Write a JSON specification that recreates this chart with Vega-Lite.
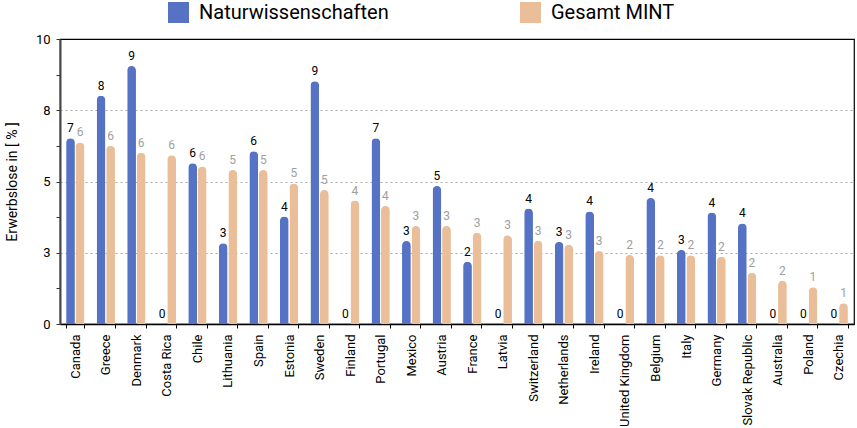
{
  "$schema": "https://vega.github.io/schema/vega-lite/v6.json",
  "width": 794,
  "height": 285,
  "autosize": {"type": "none"},
  "padding": {"left": 60, "top": 39, "right": 3, "bottom": 104},
  "config": {
    "font": "Roboto",
    "view": {"stroke": "#000000", "strokeWidth": 1.2},
    "axis": {"labelFont": "Roboto", "titleFont": "Roboto"}
  },
  "data": {
    "values": [
      {"country": "Canada", "series": "Naturwissenschaften", "value": 6.52},
      {"country": "Canada", "series": "Gesamt MINT", "value": 6.37},
      {"country": "Greece", "series": "Naturwissenschaften", "value": 8.01},
      {"country": "Greece", "series": "Gesamt MINT", "value": 6.25},
      {"country": "Denmark", "series": "Naturwissenschaften", "value": 9.05},
      {"country": "Denmark", "series": "Gesamt MINT", "value": 6.01},
      {"country": "Costa Rica", "series": "Naturwissenschaften", "value": 0},
      {"country": "Costa Rica", "series": "Gesamt MINT", "value": 5.92},
      {"country": "Chile", "series": "Naturwissenschaften", "value": 5.64},
      {"country": "Chile", "series": "Gesamt MINT", "value": 5.53},
      {"country": "Lithuania", "series": "Naturwissenschaften", "value": 2.83},
      {"country": "Lithuania", "series": "Gesamt MINT", "value": 5.4},
      {"country": "Spain", "series": "Naturwissenschaften", "value": 6.06},
      {"country": "Spain", "series": "Gesamt MINT", "value": 5.4},
      {"country": "Estonia", "series": "Naturwissenschaften", "value": 3.77},
      {"country": "Estonia", "series": "Gesamt MINT", "value": 4.93},
      {"country": "Sweden", "series": "Naturwissenschaften", "value": 8.52},
      {"country": "Sweden", "series": "Gesamt MINT", "value": 4.7},
      {"country": "Finland", "series": "Naturwissenschaften", "value": 0},
      {"country": "Finland", "series": "Gesamt MINT", "value": 4.33},
      {"country": "Portugal", "series": "Naturwissenschaften", "value": 6.52},
      {"country": "Portugal", "series": "Gesamt MINT", "value": 4.14},
      {"country": "Mexico", "series": "Naturwissenschaften", "value": 2.91},
      {"country": "Mexico", "series": "Gesamt MINT", "value": 3.44},
      {"country": "Austria", "series": "Naturwissenschaften", "value": 4.84},
      {"country": "Austria", "series": "Gesamt MINT", "value": 3.44},
      {"country": "France", "series": "Naturwissenschaften", "value": 2.18},
      {"country": "France", "series": "Gesamt MINT", "value": 3.2},
      {"country": "Latvia", "series": "Naturwissenschaften", "value": 0},
      {"country": "Latvia", "series": "Gesamt MINT", "value": 3.11},
      {"country": "Switzerland", "series": "Naturwissenschaften", "value": 4.05},
      {"country": "Switzerland", "series": "Gesamt MINT", "value": 2.92},
      {"country": "Netherlands", "series": "Naturwissenschaften", "value": 2.88},
      {"country": "Netherlands", "series": "Gesamt MINT", "value": 2.78},
      {"country": "Ireland", "series": "Naturwissenschaften", "value": 3.95},
      {"country": "Ireland", "series": "Gesamt MINT", "value": 2.56},
      {"country": "United Kingdom", "series": "Naturwissenschaften", "value": 0},
      {"country": "United Kingdom", "series": "Gesamt MINT", "value": 2.42},
      {"country": "Belgium", "series": "Naturwissenschaften", "value": 4.42},
      {"country": "Belgium", "series": "Gesamt MINT", "value": 2.41},
      {"country": "Italy", "series": "Naturwissenschaften", "value": 2.6},
      {"country": "Italy", "series": "Gesamt MINT", "value": 2.41},
      {"country": "Germany", "series": "Naturwissenschaften", "value": 3.91},
      {"country": "Germany", "series": "Gesamt MINT", "value": 2.36},
      {"country": "Slovak Republic", "series": "Naturwissenschaften", "value": 3.53},
      {"country": "Slovak Republic", "series": "Gesamt MINT", "value": 1.8},
      {"country": "Australia", "series": "Naturwissenschaften", "value": 0},
      {"country": "Australia", "series": "Gesamt MINT", "value": 1.52},
      {"country": "Poland", "series": "Naturwissenschaften", "value": 0},
      {"country": "Poland", "series": "Gesamt MINT", "value": 1.29},
      {"country": "Czechia", "series": "Naturwissenschaften", "value": 0},
      {"country": "Czechia", "series": "Gesamt MINT", "value": 0.73}
    ]
  },
  "encoding": {
    "x": {
      "field": "country",
      "type": "nominal",
      "sort": null,
      "scale": {"paddingInner": 0.4, "paddingOuter": 0.2},
      "axis": {
        "title": null,
        "labelAngle": -90,
        "labelAlign": "right",
        "labelBaseline": "middle",
        "labelFontSize": 13,
        "labelColor": "#000000",
        "labelPadding": 6,
        "tickBand": "extent",
        "tickColor": "#000000",
        "tickSize": 4,
        "domainColor": "#000000",
        "domainWidth": 1.5
      }
    },
    "xOffset": {
      "field": "series",
      "type": "nominal",
      "sort": ["Naturwissenschaften", "Gesamt MINT"],
      "scale": {"paddingInner": 0.08}
    },
    "y": {
      "field": "value",
      "type": "quantitative",
      "scale": {"domain": [0, 10], "nice": false},
      "axis": {
        "title": "Erwerbslose in [ % ]",
        "titleFontSize": 14,
        "titleFontWeight": "normal",
        "titleColor": "#000000",
        "titlePadding": 16,
        "values": [0, 1.25, 2.5, 3.75, 5, 6.25, 7.5, 8.75, 10],
        "labelExpr": "datum.value % 2.5 == 0 ? format(datum.value, '.0f') : ''",
        "labelFontSize": 13,
        "labelColor": "#000000",
        "labelPadding": 6,
        "tickSize": 4,
        "tickColor": "#333333",
        "domainColor": "#444444",
        "domainWidth": 2,
        "grid": true,
        "gridDash": [2, 3],
        "gridColor": "#aaaaaa",
        "gridOpacity": {"condition": {"test": "datum.value % 2.5 == 0 && datum.value > 0 && datum.value < 10", "value": 1}, "value": 0}
      }
    }
  },
  "layer": [
    {
      "mark": {"type": "bar", "cornerRadiusTopLeft": 4.5, "cornerRadiusTopRight": 4.5},
      "encoding": {
        "color": {
          "field": "series",
          "type": "nominal",
          "scale": {"domain": ["Naturwissenschaften", "Gesamt MINT"], "range": ["#5572c4", "#e9be98"]},
          "legend": {
            "title": null,
            "orient": "none",
            "legendX": 108,
            "legendY": -37,
            "direction": "horizontal",
            "symbolType": "square",
            "symbolSize": 440,
            "symbolStrokeWidth": 0,
            "labelFontSize": 20,
            "labelColor": "#000000",
            "labelFont": "Roboto",
            "labelLimit": 300,
            "labelOffset": 10,
            "columnPadding": 131
          }
        }
      }
    },
    {
      "mark": {"type": "text", "baseline": "bottom", "dy": -3, "fontSize": 12},
      "encoding": {
        "text": {"field": "value", "type": "quantitative", "format": ".0f"},
        "color": {"condition": {"test": "datum.series == 'Naturwissenschaften'", "value": "#000000"}, "value": "#a0a0a0"}
      }
    }
  ]
}
